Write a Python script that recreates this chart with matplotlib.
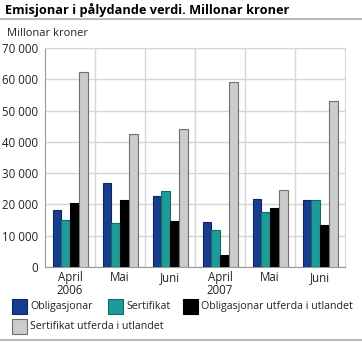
import numpy as np
import matplotlib.pyplot as plt
from matplotlib.patches import Rectangle
from matplotlib.lines import Line2D

plt.rcParams['font.family'] = ['Open Sans', 'DejaVu Sans']

# ----------------------------
# Data (millionar kroner)
# ----------------------------
months = ["April\n2006", "Mai", "Juni", "April\n2007", "Mai", "Juni"]
obligasjonar = [18100, 26700, 22600, 14500, 21800, 21500]
sertifikat = [15100, 14000, 24200, 11800, 17500, 21400]
oblig_utland = [20400, 21500, 14800, 3800, 18900, 13500]
sert_utland = [62400, 42600, 44000, 59000, 24500, 53200]

series = [
    ("Obligasjonar", obligasjonar, "#173d8f", "#0d2660"),
    ("Sertifikat", sertifikat, "#1f9b97", "#136b68"),
    ("Obligasjonar utferda i utlandet", oblig_utland, "#000000", "#000000"),
    ("Sertifikat utferda i utlandet", sert_utland, "#cccccc", "#707070"),
]

yticks = np.arange(0, 70001, 10000)
grid_col = "#d6d6d6"

fig = plt.figure(figsize=(3.62, 3.44), dpi=100)
ax = fig.add_axes([45 / 362, 1 - 267 / 344, 300 / 362, 219 / 344])

x = np.arange(len(months))
width = 0.175
for i, (name, vals, fc, ec) in enumerate(series):
    ax.bar(x + (i - 1.5) * width, vals, width, color=fc, edgecolor=ec,
           linewidth=0.8, zorder=3)

ax.set_xlim(-0.5, len(months) - 0.5)
ax.set_ylim(0, 70000)
ax.set_yticks(yticks)
ax.set_yticklabels([f"{v:,}".replace(",", " ") for v in yticks])
ax.set_xticks(x)
ax.set_xticklabels(months, linespacing=0.95)
ax.set_xticks(np.arange(0.5, len(months) - 0.5), minor=True)
ax.grid(axis="y", color=grid_col, linewidth=1, zorder=0)
ax.grid(axis="x", which="minor", color=grid_col, linewidth=1, zorder=0)
ax.tick_params(which="both", length=0, labelsize=8.3, colors="#222222", pad=3)
ax.tick_params(axis="y", pad=5)
for s in ax.spines.values():
    s.set_color(grid_col)
ax.spines["left"].set_color("#999999")
ax.spines["bottom"].set_color("#999999")

# title and rules
fig.text(5 / 362, 1 - 10 / 344, "Emisjonar i pålydande verdi. Millonar kroner",
         fontsize=9.2, fontweight="bold", va="center", ha="left")
fig.add_artist(Line2D([0, 1], [1 - 19 / 344] * 2, color="#bbbbbb", linewidth=1.5))
fig.add_artist(Line2D([0, 1], [1 - 340 / 344] * 2, color="#bbbbbb", linewidth=1.5))
fig.text(7 / 362, 1 - 34 / 344, "Millonar kroner", fontsize=8, va="center",
         ha="left", color="#222222")

# legend, laid out by hand
legend_pos = [(12, 299), (108, 299), (183, 299), (12, 319)]
for (name, vals, fc, ec), (lx, ly) in zip(series, legend_pos):
    fig.add_artist(Rectangle((lx / 362, 1 - (ly + 15) / 344), 15 / 362, 15 / 344,
                             facecolor=fc, edgecolor=ec, linewidth=0.8,
                             transform=fig.transFigure))
    fig.text((lx + 18) / 362, 1 - (ly + 7.5) / 344, name, fontsize=7.7,
             va="center", ha="left", color="#222222")

fig.savefig("out.png", dpi=100)
